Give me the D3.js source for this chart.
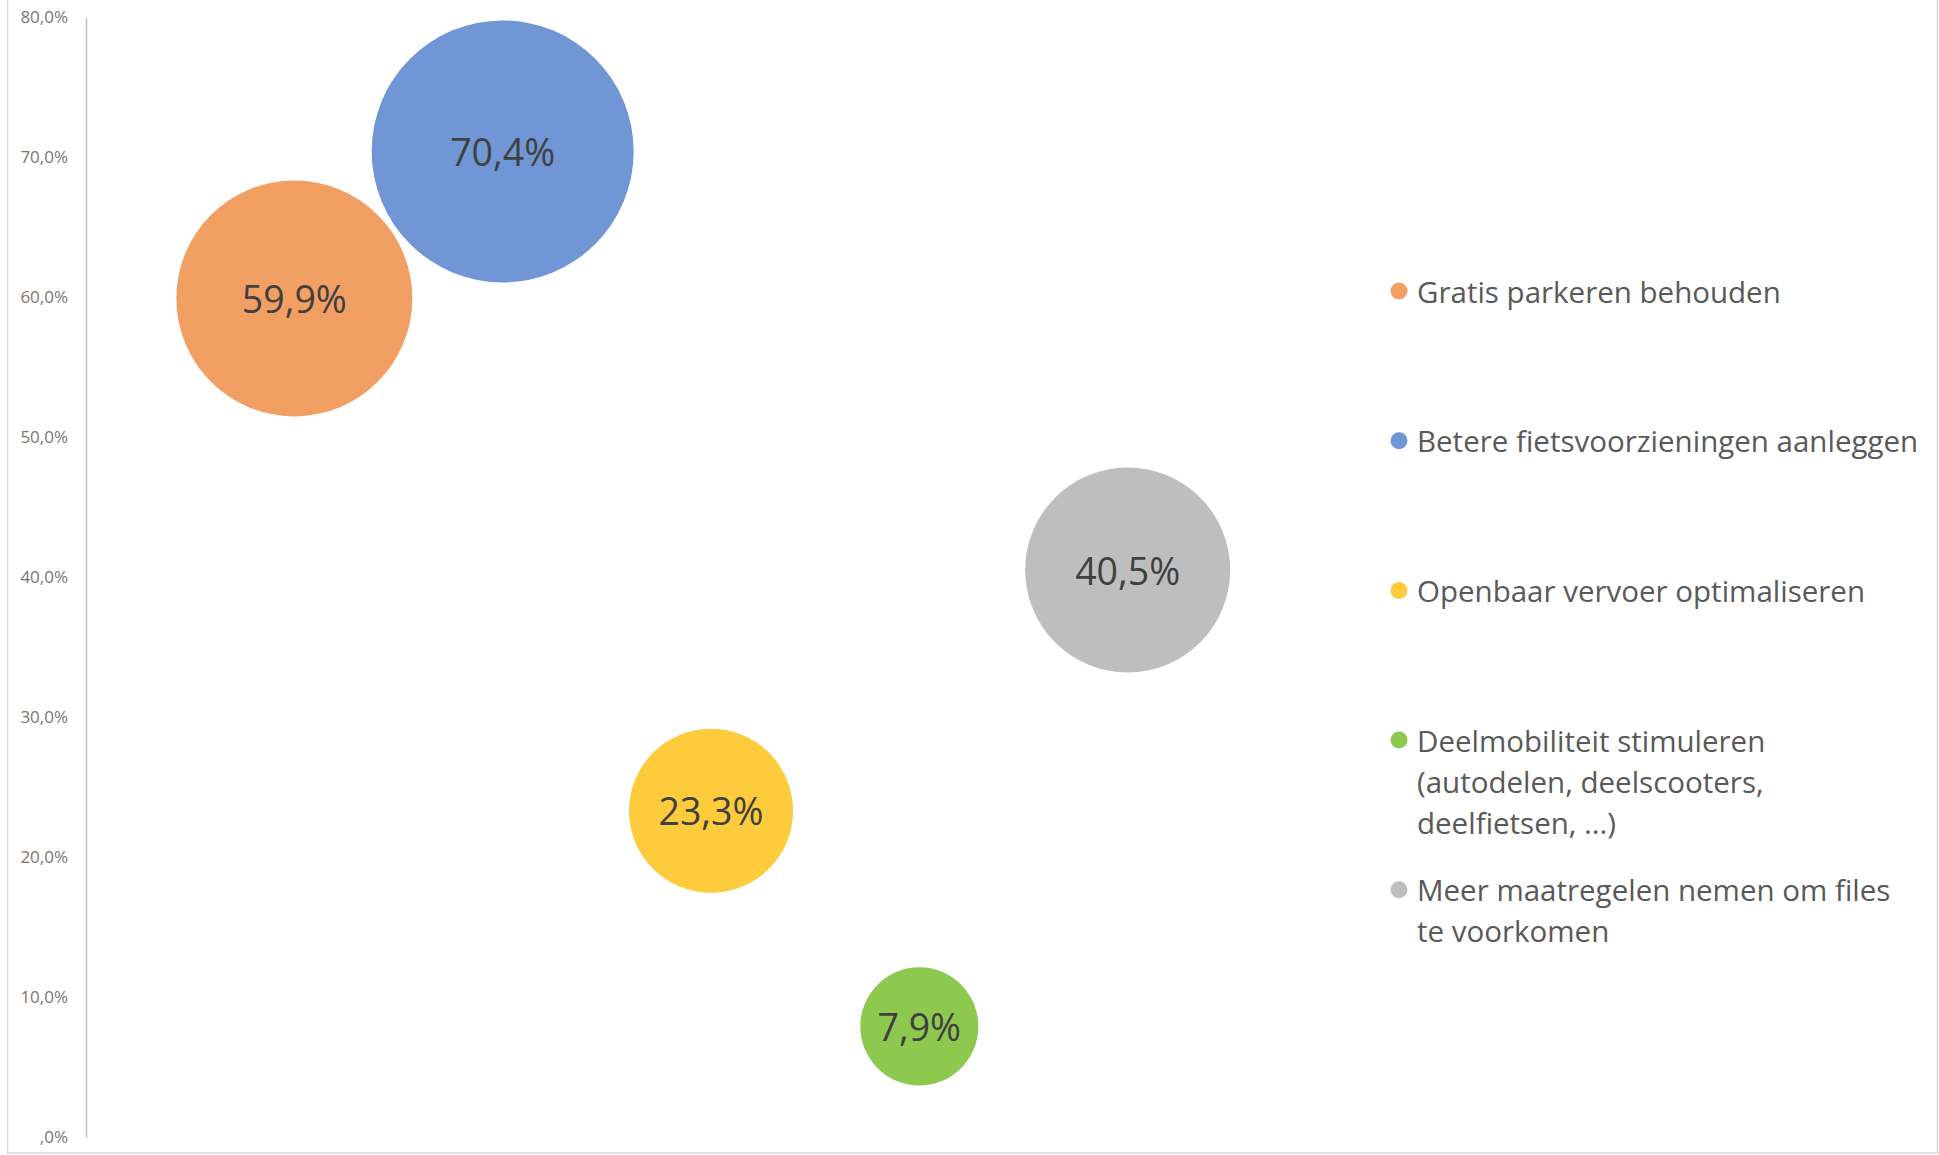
<!DOCTYPE html>
<html lang="nl">
<head>
    <meta charset="UTF-8">
    <title>Bubble</title>
    <script src="https://d3js.org/d3.v7.min.js"></script>
    <style>
        body { margin: 0; background: #fff; }
        text { font-family: 'Open Sans', sans-serif; }
    </style>
</head>
<body>
<script>

    const width  = 1939;
    const height = 1155;

    // one bubble per measure, in legend order
    const categories = [
        "Gratis parkeren behouden",
        "Betere fietsvoorzieningen aanleggen",
        "Openbaar vervoer optimaliseren",
        "Deelmobiliteit stimuleren\n(autodelen, deelscooters,\ndeelfietsen, ...)",
        "Meer maatregelen nemen om files\nte voorkomen"
    ];
    const xValues     = [1, 2, 3, 4, 5];
    const percentages = [59.9, 70.4, 23.3, 7.9, 40.5];
    const bubbleSizes = [57.1, 70.4, 27.6, 14.3, 43.1];
    const colors      = ["#F29F63", "#7196D5", "#FECB3C", "#8DC94F", "#BEBEBE"];
    const yTicks      = [0, 10, 20, 30, 40, 50, 60, 70, 80];

    const x = d3.scaleLinear().domain([0, 6]).range([86, 1336]);
    const y = d3.scaleLinear().domain([0, 80]).range([1137, 17]);
    const r = d3.scaleSqrt().domain([0, 70.4]).range([0, 131]);

    // Excel-style "#,0%" : zero shows as ",0%"
    const fmt = d => (d === 0 ? ",0" : d.toFixed(1).replace(".", ",")) + "%";
    const fmtLabel = d => d.toFixed(1).replace(".", ",") + "%";

    const svg = d3.select("body")
            .append("svg")
            .attr("width", width)
            .attr("height", height);

    // chart frame
    svg.append("rect")
            .attr("x", 7.5).attr("y", -2)
            .attr("width", 1930).attr("height", 1155)
            .attr("fill", "none")
            .attr("stroke", "#d9d9d9")
            .attr("stroke-width", 1.5);

    const axis = svg.append("g")
            .attr("transform", "translate(" + x(0) + ",0)")
            .call(d3.axisLeft(y).tickValues(yTicks).tickFormat(fmt)
                    .tickSize(0).tickSizeOuter(0).tickPadding(18));
    axis.select(".domain").attr("stroke", "#bfbfbf").attr("stroke-width", 1.5);
    axis.selectAll("text")
            .attr("fill", "#767676")
            .style("font-size", "17px");

    const data = categories.map((c, i) => ({
        name: c, x: xValues[i], pct: percentages[i], size: bubbleSizes[i], color: colors[i]
    }));

    const bubbles = svg.selectAll(".bubble")
            .data(data)
            .enter()
            .append("g").attr("class", "bubble");

    bubbles.append("circle")
            .attr("cx", d => x(d.x))
            .attr("cy", d => y(d.pct))
            .attr("r", d => r(d.size))
            .attr("fill", d => d.color);

    bubbles.append("text")
            .attr("x", d => x(d.x))
            .attr("y", d => y(d.pct))
            .attr("text-anchor", "middle")
            .attr("dominant-baseline", "central")
            .attr("fill", "#404040")
            .style("font-size", "37.5px")
            .text(d => fmtLabel(d.pct));

    // legend
    const legend = svg.selectAll(".legend")
            .data(data)
            .enter()
            .append("g").attr("class", "legend")
            .attr("transform", (d, i) => "translate(1399," + (291 + i * 149.7) + ")");

    legend.append("circle")
            .attr("r", 8.5)
            .attr("fill", d => d.color);

    legend.each(function(d) {
        d3.select(this).selectAll("text")
                .data(d.name.split("\n"))
                .enter()
                .append("text")
                .attr("x", 18)
                .attr("y", (l, j) => j * 41)
                .attr("dominant-baseline", "central")
                .attr("fill", "#595959")
                .style("font-size", "29.5px")
                .text(l => l);
    });

</script>
</body>
</html>
